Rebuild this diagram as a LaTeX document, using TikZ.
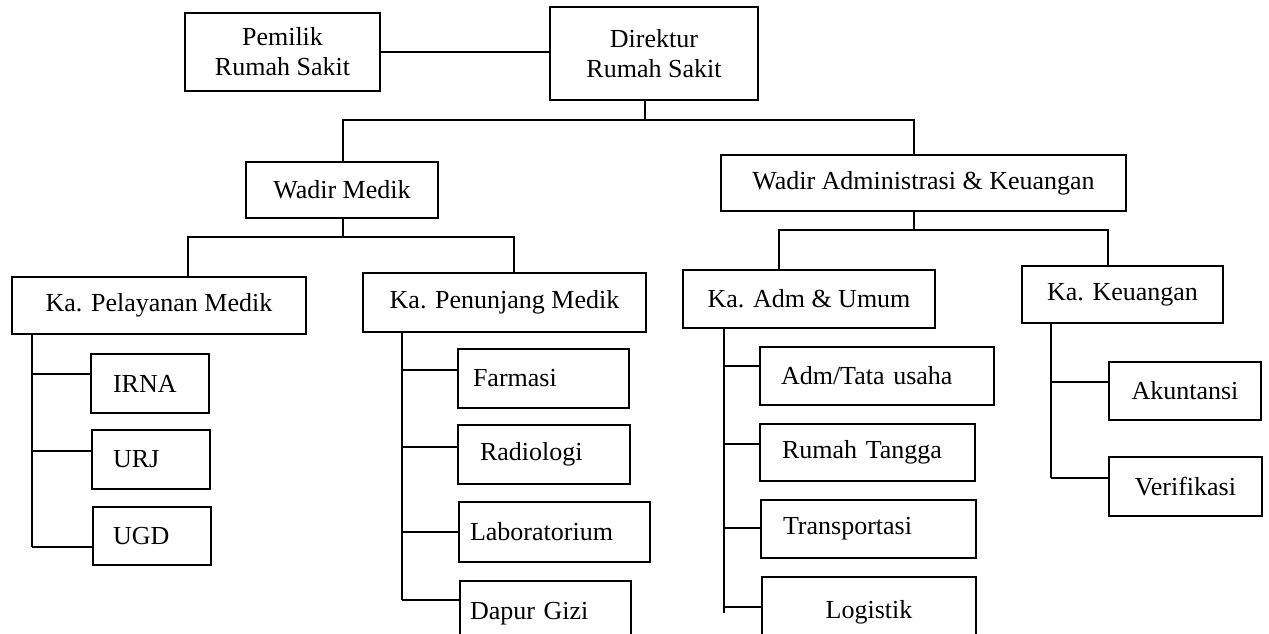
\documentclass[tikz,border=0pt]{standalone}
\usepackage{fontspec}
\setmainfont{Liberation Serif}
% box given by its left, top, right and bottom edges
\newcommand\orgnode[7]{%
  \node[box,#6,minimum width={#4-#2},minimum height={#5-#3}] (#1)
    at ({(#2+#4)/2},{(#3+#5)/2}) {#7};}
\begin{document}
\begin{tikzpicture}[x=1pt,y=-1pt,
  box/.style={draw,line width=1.6pt,inner sep=0pt,align=center,
    font=\fontsize{26}{30}\selectfont},
  link/.style={line width=1.6pt},
  lefttext/.style={text width=#1,align=left}]
\useasboundingbox (0,0) rectangle (1269,633);
\clip (0,0) rectangle (1269,633);

% top level
\orgnode{pemilik}{185}{13}{380}{91}{}{Pemilik\\Rumah Sakit}
\orgnode{direktur}{550}{7}{758}{100}{}{Direktur\\Rumah Sakit}
\orgnode{wadirmed}{246}{162}{438}{218}{}{Wadir Medik}
\orgnode{wadiradm}{721}{155}{1126}{211}{}{Wadir Administrasi \& Keuangan}

% heads of department
\orgnode{kapel}{12}{277}{306}{334}{}{Ka. Pelayanan Medik}
\orgnode{kapen}{363}{273}{646}{332}{}{Ka. Penunjang Medik}
\orgnode{kaadm}{683}{270}{935}{328}{}{Ka. Adm \& Umum}
\orgnode{kakeu}{1022}{266}{1223}{323}{}{Ka. Keuangan}

% units
\orgnode{irna}{91}{354}{209}{413}{lefttext=74pt}{IRNA}
\orgnode{urj}{92}{430}{210}{489}{lefttext=76pt}{URJ}
\orgnode{ugd}{93}{507}{211}{565}{lefttext=78pt}{UGD}

\orgnode{farmasi}{458}{349}{629}{408}{lefttext=141pt}{Farmasi}
\orgnode{radiologi}{458}{425}{630}{484}{lefttext=128pt}{Radiologi}
\orgnode{lab}{459}{502}{650}{562}{lefttext=169pt}{Laboratorium}
\orgnode{dapur}{460}{581}{631}{647}{lefttext=151pt}{Dapur Gizi}

\orgnode{admtu}{760}{347}{994}{405}{lefttext=192pt}{Adm/Tata usaha}
\orgnode{rumahtangga}{760}{424}{975}{481}{lefttext=171pt}{Rumah Tangga}
\orgnode{transport}{761}{500}{976}{558}{lefttext=171pt}{Transportasi}
\orgnode{logistik}{762}{577}{976}{647}{}{Logistik}

\orgnode{akuntansi}{1109}{362}{1261}{420}{}{Akuntansi}
\orgnode{verifikasi}{1109}{457}{1262}{516}{}{Verifikasi}

% owner -- director
\draw[link] (pemilik.east) -- (pemilik.east -| direktur.west);

% director to deputies
\coordinate (dstem) at (645,120);
\coordinate (medbus) at (343,120);
\coordinate (admbus) at (914,120);
\draw[link] (dstem |- direktur.south) -- (dstem);
\draw[link] (medbus |- wadirmed.north) -- (medbus) -- (admbus) -- (admbus |- wadiradm.north);

% medical deputy to heads
\coordinate (mstem) at (343,237);
\coordinate (mbusL) at (188,237);
\coordinate (mbusR) at (514,237);
\draw[link] (mstem |- wadirmed.south) -- (mstem);
\draw[link] (mbusL |- kapel.north) -- (mbusL) -- (mbusR) -- (mbusR |- kapen.north);

% administration deputy to heads
\coordinate (astem) at (914,230);
\coordinate (abusL) at (779,230);
\coordinate (abusR) at (1108,230);
\draw[link] (astem |- wadiradm.south) -- (astem);
\draw[link] (abusL |- kaadm.north) -- (abusL) -- (abusR) -- (abusR |- kakeu.north);

% Ka. Pelayanan Medik
\coordinate (pa) at (32,374);
\coordinate (pb) at (32,451);
\coordinate (pc) at (32,547);
\draw[link] (pc |- kapel.south) -- (pc);
\draw[link] (pa) -- (pa -| irna.west);
\draw[link] (pb) -- (pb -| urj.west);
\draw[link] (pc) -- (pc -| ugd.west);

% Ka. Penunjang Medik
\coordinate (na) at (402,370);
\coordinate (nb) at (402,447);
\coordinate (nc) at (402,532);
\coordinate (nd) at (402,600);
\draw[link] (nd |- kapen.south) -- (nd);
\draw[link] (na) -- (na -| farmasi.west);
\draw[link] (nb) -- (nb -| radiologi.west);
\draw[link] (nc) -- (nc -| lab.west);
\draw[link] (nd) -- (nd -| dapur.west);

% Ka. Adm & Umum
\coordinate (ua) at (724,366);
\coordinate (ub) at (724,444);
\coordinate (uc) at (724,528);
\coordinate (ud) at (724,607);
\coordinate (uend) at (724,613);
\draw[link] (uend |- kaadm.south) -- (uend);
\draw[link] (ua) -- (ua -| admtu.west);
\draw[link] (ub) -- (ub -| rumahtangga.west);
\draw[link] (uc) -- (uc -| transport.west);
\draw[link] (ud) -- (ud -| logistik.west);

% Ka. Keuangan
\coordinate (ka) at (1051,382);
\coordinate (kb) at (1051,478);
\draw[link] (kb |- kakeu.south) -- (kb);
\draw[link] (ka) -- (ka -| akuntansi.west);
\draw[link] (kb) -- (kb -| verifikasi.west);
\end{tikzpicture}
\end{document}
